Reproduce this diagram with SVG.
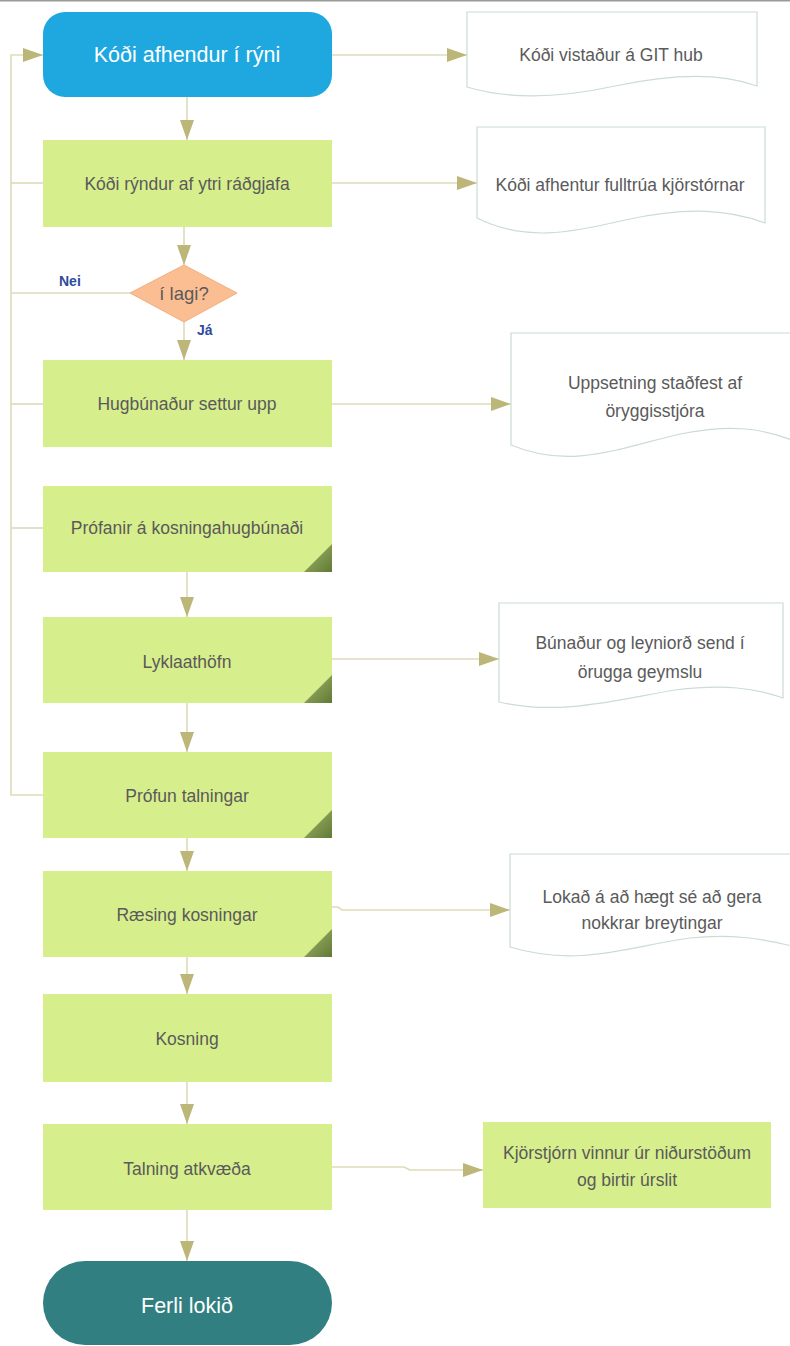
<svg xmlns="http://www.w3.org/2000/svg" width="790" height="1346" viewBox="0 0 790 1346">
<style>
.box{fill:#D7EE8C;}
.doc{fill:#FFFFFF;stroke:#CBDCD3;stroke-width:1.2;}
.con{fill:none;stroke:#DEDBB8;stroke-width:1.6;}
.t{font-family:"Liberation Sans",Arial,sans-serif;font-size:17.5px;fill:#5A5A5A;text-anchor:middle;}
.tw{font-family:"Liberation Sans",Arial,sans-serif;font-size:21.5px;fill:#FFFFFF;text-anchor:middle;}
.lbl{font-family:"Liberation Sans",Arial,sans-serif;font-size:14px;fill:#2E4B9E;font-weight:bold;}
.corner{fill:url(#cg);}
</style>
<defs>
<marker id="ah" markerWidth="20" markerHeight="14" refX="20" refY="7" orient="auto" markerUnits="userSpaceOnUse">
<path d="M0,0 L20,7 L0,14 Z" fill="#BDB679"/>
</marker>
<linearGradient id="cg" x1="0" y1="0" x2="1" y2="1">
<stop offset="0" stop-color="#A8B870"/>
<stop offset="1" stop-color="#5F7A34"/>
</linearGradient>
</defs>
<rect x="0" y="0" width="790" height="1346" fill="#FFFFFF"/>
<line x1="0" y1="0.8" x2="790" y2="0.8" stroke="#9A9A9A" stroke-width="1.6"/>

<g id="connectors">
<path class="con" d="M187,97 V140" marker-end="url(#ah)"/>
<path class="con" d="M184,227 V265" marker-end="url(#ah)"/>
<path class="con" d="M184,322 V360" marker-end="url(#ah)"/>
<path class="con" d="M187,572 V617" marker-end="url(#ah)"/>
<path class="con" d="M187,703 V752" marker-end="url(#ah)"/>
<path class="con" d="M187,838 V871" marker-end="url(#ah)"/>
<path class="con" d="M187,957 V994" marker-end="url(#ah)"/>
<path class="con" d="M187,1082 V1124" marker-end="url(#ah)"/>
<path class="con" d="M187,1210 V1261" marker-end="url(#ah)"/>
<path class="con" d="M43,795 H11 V55 H43" marker-end="url(#ah)"/>
<path class="con" d="M43,183 H11"/>
<path class="con" d="M130,293 H11"/>
<path class="con" d="M43,404 H11"/>
<path class="con" d="M43,528 H11"/>
<path class="con" d="M332,55 H467" marker-end="url(#ah)"/>
<path class="con" d="M332,183 H477" marker-end="url(#ah)"/>
<path class="con" d="M332,404 H511" marker-end="url(#ah)"/>
<path class="con" d="M332,659 H499" marker-end="url(#ah)"/>
<path class="con" d="M332,907 H338 L342,910 H510" marker-end="url(#ah)"/>
<path class="con" d="M332,1167 H404 L410,1170 H483" marker-end="url(#ah)"/>
<text class="lbl" x="59" y="286">Nei</text>
<text class="lbl" x="197" y="335">Já</text>
</g>

<g id="start">
<rect x="43" y="12" width="289" height="85" rx="22" fill="#1EA8DF"/>
<text class="tw" x="187" y="62">Kóði afhendur í rýni</text>
</g>
<g id="n-ryndur">
<rect class="box" x="43" y="140" width="289" height="87"/>
<text class="t" x="187" y="190">Kóði rýndur af ytri ráðgjafa</text>
</g>
<g id="decision">
<path d="M184,265 L237,293 L184,322 L130,293 Z" fill="#FBBE92" stroke="#F0B080" stroke-width="1"/>
<text class="t" x="184" y="300" style="font-size:18.5px">í lagi?</text>
</g>
<g id="n-hugbunadur">
<rect class="box" x="43" y="360" width="289" height="87"/>
<text class="t" x="187" y="410">Hugbúnaður settur upp</text>
</g>
<g id="n-profanir">
<rect class="box" x="43" y="486" width="289" height="86"/>
<path class="corner" d="M304,572 L332,572 L332,544 Z"/>
<text class="t" x="187" y="534">Prófanir á kosningahugbúnaði</text>
</g>
<g id="n-lykla">
<rect class="box" x="43" y="617" width="289" height="86"/>
<path class="corner" d="M304,703 L332,703 L332,675 Z"/>
<text class="t" x="187" y="668">Lyklaathöfn</text>
</g>
<g id="n-profun">
<rect class="box" x="43" y="752" width="289" height="86"/>
<path class="corner" d="M304,838 L332,838 L332,810 Z"/>
<text class="t" x="187" y="802">Prófun talningar</text>
</g>
<g id="n-raesing">
<rect class="box" x="43" y="871" width="289" height="86"/>
<path class="corner" d="M304,957 L332,957 L332,929 Z"/>
<text class="t" x="187" y="921">Ræsing kosningar</text>
</g>
<g id="n-kosning">
<rect class="box" x="43" y="994" width="289" height="88"/>
<text class="t" x="187" y="1045">Kosning</text>
</g>
<g id="n-talning">
<rect class="box" x="43" y="1124" width="289" height="86"/>
<text class="t" x="187" y="1175">Talning atkvæða</text>
</g>
<g id="end">
<rect x="43" y="1261" width="289" height="84" rx="42" fill="#317F80"/>
<text class="tw" x="187" y="1313">Ferli lokið</text>
</g>

<g id="d-git">
<path class="doc" d="M467,12 H757 V86 C725,74 680,72 615,86 C560,98 510,100 467,87 Z"/>
<text class="t" x="611" y="61">Kóði vistaður á GIT hub</text>
</g>
<g id="d-fulltrui">
<path class="doc" d="M477,127 H765 V223 C730,210 690,206 625,220 C570,233 525,242 477,218 Z"/>
<text class="t" x="620" y="191">Kóði afhentur fulltrúa kjörstórnar</text>
</g>
<g id="d-uppsetning">
<path class="doc" d="M511,333 H792 V440 C760,428 730,424 680,434 C620,448 570,470 511,445 Z"/>
<text class="t" x="655" y="389">Uppsetning staðfest af</text>
<text class="t" x="655" y="417">öryggisstjóra</text>
</g>
<g id="d-bunadur">
<path class="doc" d="M499,603 H783 V698 C755,688 725,684 675,690 C615,700 560,716 499,702 Z"/>
<text class="t" x="640" y="649">Búnaður og leyniorð send í</text>
<text class="t" x="640" y="678">örugga geymslu</text>
</g>
<g id="d-lokad">
<path class="doc" d="M510,854 H792 V946 C760,938 730,934 690,938 C630,946 580,968 510,947 Z"/>
<text class="t" x="652" y="903">Lokað á að hægt sé að gera</text>
<text class="t" x="652" y="929">nokkrar breytingar</text>
</g>
<g id="d-kjorstjorn">
<rect class="box" x="483" y="1122" width="288" height="86"/>
<text class="t" x="627" y="1159">Kjörstjórn vinnur úr niðurstöðum</text>
<text class="t" x="627" y="1186">og birtir úrslit</text>
</g>
</svg>
